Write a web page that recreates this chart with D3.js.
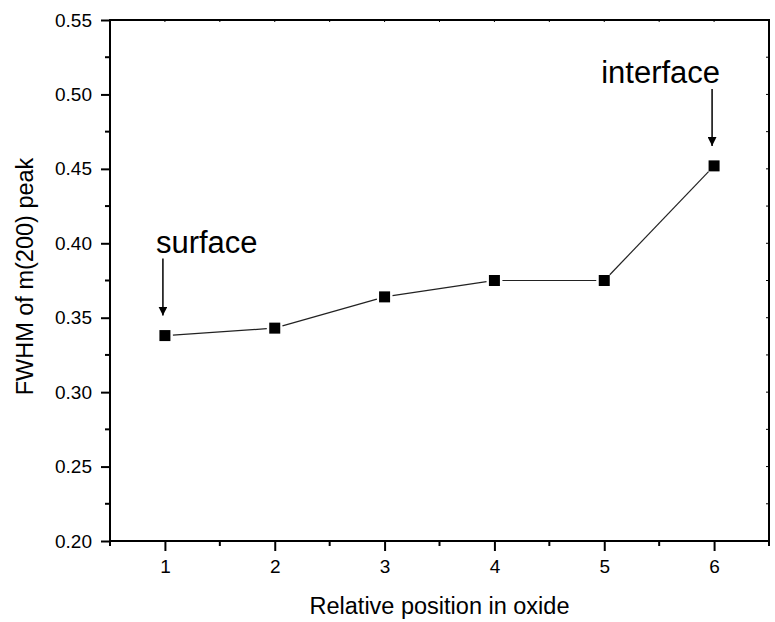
<!DOCTYPE html>
<html>
<head>
<meta charset="utf-8">
<script src="https://cdn.jsdelivr.net/npm/d3@7"></script>
<style>
  body { margin: 0; background: #fff; }
  svg { display: block; font-family: "Liberation Sans", Arial, sans-serif; }
</style>
</head>
<body>
<div id="chart"></div>
<script>
// data
const positions = [1, 2, 3, 4, 5, 6];
const fwhm = [0.338, 0.343, 0.364, 0.375, 0.375, 0.452];
const yTicks = [0.20, 0.25, 0.30, 0.35, 0.40, 0.45, 0.50, 0.55];
const xTicks = [1, 2, 3, 4, 5, 6];
const notes = [
    { label: 'surface', index: 0 },
    { label: 'interface', index: 5 }
];

const width = 775, height = 622;
const margin = { top: 20, right: 6, bottom: 81, left: 110 };

const svg = d3.select('#chart')
    .append('svg')
    .attr('width', width)
    .attr('height', height);

const x = d3.scaleLinear().domain([0.5, 6.5]).range([margin.left, width - margin.right]);
const y = d3.scaleLinear().domain([0.20, 0.55]).range([height - margin.bottom, margin.top]);

const x0 = x.range()[0], x1 = x.range()[1];
const y0 = y.range()[0], y1 = y.range()[1];

// minor ticks (outward on left / bottom)
const yMinor = d3.range(0.225, 0.55, 0.05);
const xMinor = d3.range(0.5, 6.6, 1);

svg.append('g')
    .selectAll('line')
    .data(yMinor)
    .join('line')
    .attr('x1', x0 - 5).attr('x2', x0)
    .attr('y1', d => y(d)).attr('y2', d => y(d))
    .attr('stroke', '#000').attr('stroke-width', 2);

svg.append('g')
    .selectAll('line')
    .data(xMinor)
    .join('line')
    .attr('x1', d => x(d)).attr('x2', d => x(d))
    .attr('y1', y0).attr('y2', y0 + 5)
    .attr('stroke', '#000').attr('stroke-width', 2);

// mirror ticks on top and right (inward, short)
svg.append('g')
    .selectAll('line')
    .data(d3.range(0.5, 6.6, 0.5))
    .join('line')
    .attr('x1', d => x(d)).attr('x2', d => x(d))
    .attr('y1', y1).attr('y2', y1 + 2)
    .attr('stroke', '#000').attr('stroke-width', 1);

svg.append('g')
    .selectAll('line')
    .data(d3.range(0.2, 0.551, 0.025))
    .join('line')
    .attr('x1', x1 - 3).attr('x2', x1)
    .attr('y1', d => y(d)).attr('y2', d => y(d))
    .attr('stroke', '#000').attr('stroke-width', 1);

// main axes
const yAxis = d3.axisLeft(y)
    .tickValues(yTicks)
    .tickFormat(d3.format('.2f'))
    .tickSize(9)
    .tickPadding(9);

const xAxis = d3.axisBottom(x)
    .tickValues(xTicks)
    .tickFormat(d3.format('d'))
    .tickSize(10)
    .tickPadding(9);

const gy = svg.append('g')
    .attr('transform', `translate(${x0},0)`)
    .call(yAxis);

const gx = svg.append('g')
    .attr('transform', `translate(0,${y0})`)
    .call(xAxis);

[gx, gy].forEach(g => {
    g.select('.domain').remove();
    g.selectAll('.tick line').attr('stroke', '#000').attr('stroke-width', 2);
    g.selectAll('.tick text')
        .attr('fill', '#000')
        .style('font-size', '19px')
        .style('font-family', '"Liberation Sans", Arial, sans-serif');
});

// frame
svg.append('rect')
    .attr('x', x0).attr('y', y1)
    .attr('width', x1 - x0).attr('height', y0 - y1)
    .attr('fill', 'none')
    .attr('stroke', '#000')
    .attr('stroke-width', 2);

// line segments with small gaps at markers
const pts = positions.map((p, i) => [x(p), y(fwhm[i])]);
const gap = 8;
svg.append('g')
    .selectAll('line')
    .data(d3.pairs(pts))
    .join('line')
    .each(function ([a, b]) {
        const dx = b[0] - a[0], dy = b[1] - a[1];
        const len = Math.hypot(dx, dy);
        const ux = dx / len, uy = dy / len;
        d3.select(this)
            .attr('x1', a[0] + ux * gap).attr('y1', a[1] + uy * gap)
            .attr('x2', b[0] - ux * gap).attr('y2', b[1] - uy * gap);
    })
    .attr('stroke', '#222')
    .attr('stroke-width', 1.2);

// square markers
const ms = 11;
svg.append('g')
    .selectAll('rect')
    .data(pts)
    .join('rect')
    .attr('x', d => d[0] - ms / 2)
    .attr('y', d => d[1] - ms / 2)
    .attr('width', ms)
    .attr('height', ms)
    .attr('fill', '#000');

// annotations with arrows
svg.append('defs').append('marker')
    .attr('id', 'arrow')
    .attr('viewBox', '0 0 10 10')
    .attr('refX', 10).attr('refY', 5)
    .attr('markerWidth', 9).attr('markerHeight', 9)
    .attr('markerUnits', 'userSpaceOnUse')
    .attr('orient', 'auto')
    .append('path')
    .attr('d', 'M0,0L10,5L0,10Z')
    .attr('fill', '#000');

notes.forEach(n => {
    const px = x(positions[n.index]) - 2;
    const py = y(fwhm[n.index]);
    svg.append('line')
        .attr('x1', px).attr('x2', px)
        .attr('y1', py - 77).attr('y2', py - 20)
        .attr('stroke', '#000')
        .attr('stroke-width', 1.5)
        .attr('marker-end', 'url(#arrow)');
    const t = svg.append('text')
        .attr('y', py - 83)
        .style('font-size', '31px')
        .attr('fill', '#000')
        .text(n.label);
    if (n.index === 0) {
        t.attr('x', px - 7).attr('text-anchor', 'start');
    } else {
        t.attr('x', px + 8).attr('text-anchor', 'end');
    }
});

// axis titles
svg.append('text')
    .attr('x', (x0 + x1) / 2)
    .attr('y', 614)
    .attr('text-anchor', 'middle')
    .style('font-size', '23.5px')
    .text('Relative position in oxide');

svg.append('text')
    .attr('transform', `translate(33,${(y0 + y1) / 2 - 4}) rotate(-90)`)
    .attr('text-anchor', 'middle')
    .style('font-size', '23.5px')
    .text('FWHM of m(200) peak');
</script>
</body>
</html>
